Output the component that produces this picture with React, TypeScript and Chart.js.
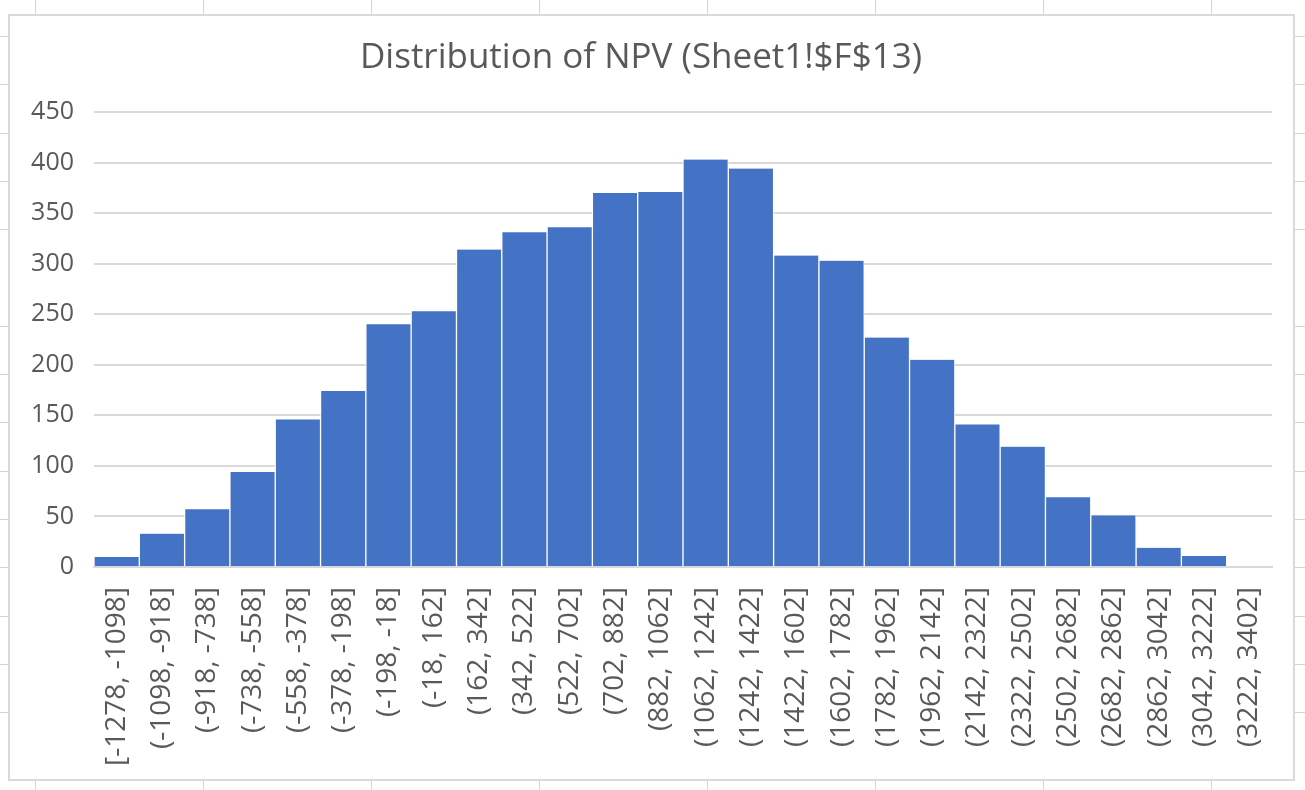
import React, { useEffect, useRef } from "react";
import { Chart, registerables } from "chart.js";

Chart.register(...registerables);

const categories = [
  "[-1278, -1098]", "(-1098, -918]", "(-918, -738]", "(-738, -558]", "(-558, -378]",
  "(-378, -198]", "(-198, -18]", "(-18, 162]", "(162, 342]", "(342, 522]",
  "(522, 702]", "(702, 882]", "(882, 1062]", "(1062, 1242]", "(1242, 1422]",
  "(1422, 1602]", "(1602, 1782]", "(1782, 1962]", "(1962, 2142]", "(2142, 2322]",
  "(2322, 2502]", "(2502, 2682]", "(2682, 2862]", "(2862, 3042]", "(3042, 3222]",
  "(3222, 3402]",
];

const counts = [
  10, 33, 57, 94, 146, 174, 240, 253, 314, 331,
  336, 370, 371, 403, 394, 308, 303, 227, 205, 141,
  119, 69, 51, 19, 11, 1,
];

const yTicks = [0, 50, 100, 150, 200, 250, 300, 350, 400, 450];

const TITLE = "Distribution of NPV (Sheet1!$F$13)";
const FONT = "'Open Sans', 'Liberation Sans', sans-serif";
const TEXT = "#595959";
const GRID = "#d9d9d9";

export default function App() {
  const ref = useRef<HTMLCanvasElement | null>(null);

  useEffect(() => {
    if (!ref.current) return;
    const chart = new Chart(ref.current, {
      type: "bar",
      data: {
        labels: categories,
        datasets: [
          {
            data: counts,
            backgroundColor: "#4472c4",
            borderColor: "#ffffff",
            borderWidth: { left: 1, right: 1, top: 0, bottom: 0 },
            barPercentage: 1,
            categoryPercentage: 1,
          },
        ],
      },
      options: {
        animation: false,
        responsive: false,
        maintainAspectRatio: false,
        layout: { padding: { left: 0, right: 21, top: 0, bottom: 0 } },
        plugins: {
          legend: { display: false },
          tooltip: { enabled: false },
          title: {
            display: true,
            text: TITLE,
            color: TEXT,
            font: { family: FONT, size: 35, weight: "normal", lineHeight: 1.2 },
            padding: { top: 21, bottom: 33 },
          },
        },
        scales: {
          x: {
            grid: { display: false, drawTicks: false },
            border: { color: GRID, width: 2 },
            ticks: {
              color: TEXT,
              font: { family: FONT, size: 28 },
              minRotation: 90,
              maxRotation: 90,
              autoSkip: false,
              padding: 20,
            },
            afterFit: (s: any) => {
              s.height = 212;
              s.paddingLeft = 0;
              s.paddingRight = 0;
            },
          },
          y: {
            min: 0,
            max: 450,
            afterBuildTicks: (s: any) => {
              s.ticks = yTicks.map((v) => ({ value: v }));
            },
            grid: { color: GRID, lineWidth: 2, drawTicks: false },
            border: { display: false },
            ticks: {
              color: TEXT,
              font: { family: FONT, size: 25 },
              padding: 20,
            },
            afterFit: (s: any) => {
              s.width = 84;
              s.paddingTop = 0;
              s.paddingBottom = 0;
            },
          },
        },
      },
    });
    return () => chart.destroy();
  }, []);

  const bg: React.CSSProperties = {
    position: "fixed",
    left: 0,
    top: 0,
    width: 1305,
    height: 790,
    background: "#ffffff",
    backgroundImage:
      "repeating-linear-gradient(to right, transparent 0px, transparent 35px, #d4d4d4 35px, #d4d4d4 36px, transparent 36px, transparent 168px)," +
      "repeating-linear-gradient(to bottom, transparent 0px, transparent 36px, #d4d4d4 36px, #d4d4d4 37px, transparent 37px, transparent 48.3px)",
  };

  return (
    <div style={bg}>
      <div
        style={{
          position: "absolute",
          left: 8,
          top: 14,
          width: 1283,
          height: 763,
          border: "2px solid #d9d9d9",
          background: "#ffffff",
        }}
      >
        <canvas ref={ref} width={1283} height={763} style={{ display: "block" }} />
      </div>
    </div>
  );
}
